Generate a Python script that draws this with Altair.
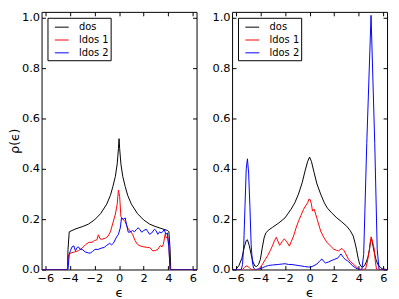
import altair as alt
import pandas as pd

SERIES = ["dos", "ldos 1", "ldos 2"]
COLORS = ["black", "red", "blue"]
X_TICKS = [-6, -4, -2, 0, 2, 4, 6]
Y_TICKS = [0.0, 0.2, 0.4, 0.6, 0.8, 1.0]

# ---- left panel ----
L_DOS_X = [-6.3, -4.2, -4.15, -4.05, -3.5, -3.0, -2.5, -2.0, -1.5, -1.0, -0.7, -0.5, -0.3, -0.15, -0.05, 0.0,
           0.05, 0.15, 0.3, 0.5, 0.7, 1.0, 1.5, 2.0, 2.5, 3.0, 3.5, 3.95, 4.05, 4.15, 4.2, 6.3]
L_DOS_Y = [0.0, 0.0, 0.08, 0.15, 0.162, 0.17, 0.18, 0.197, 0.222, 0.26, 0.295, 0.33, 0.37, 0.42, 0.48, 0.52,
           0.48, 0.42, 0.37, 0.33, 0.295, 0.26, 0.222, 0.197, 0.18, 0.17, 0.162, 0.155, 0.15, 0.08, 0.0, 0.0]
L_LD1_X = [-6.3, -4.2, -4.1, -3.9, -3.6, -3.3, -3.0, -2.7, -2.45, -2.2, -2.0, -1.8, -1.68, -1.55, -1.4, -1.1,
           -0.9, -0.7, -0.5, -0.3, -0.15, -0.05, 0.05, 0.15, 0.3, 0.5, 0.7, 0.9, 1.1, 1.3, 1.5, 1.7, 2.0, 2.3,
           2.5, 2.75, 2.95, 3.15, 3.35, 3.5, 3.6, 3.75, 3.85, 3.95, 4.05, 4.15, 6.3]
L_LD1_Y = [0.0, 0.0, 0.06, 0.066, 0.07, 0.075, 0.085, 0.1, 0.108, 0.108, 0.115, 0.118, 0.138, 0.122, 0.12, 0.125,
           0.132, 0.15, 0.185, 0.22, 0.26, 0.316, 0.29, 0.21, 0.2, 0.19, 0.165, 0.153, 0.14, 0.115, 0.1, 0.094,
           0.09, 0.088, 0.087, 0.074, 0.075, 0.08, 0.095, 0.09, 0.1, 0.14, 0.125, 0.13, 0.09, 0.0, 0.0]
L_LD2_X = [-6.3, -4.15, -4.05, -3.95, -3.82, -3.68, -3.55, -3.4, -3.3, -3.15, -3.0, -2.75, -2.5, -2.35, -2.15,
           -1.96, -1.7, -1.43, -1.2, -1.03, -0.77, -0.6, -0.45, -0.25, -0.05, 0.1, 0.2, 0.35, 0.5, 0.6, 0.75,
           0.95, 1.1, 1.25, 1.43, 1.56, 1.7, 1.85, 2.0, 2.22, 2.35, 2.48, 2.65, 2.88, 3.0, 3.15, 3.3, 3.41,
           3.55, 3.67, 3.8, 3.93, 4.05, 4.15, 6.3]
L_LD2_Y = [0.0, 0.0, 0.06, 0.075, 0.09, 0.094, 0.075, 0.088, 0.09, 0.08, 0.08, 0.07, 0.066, 0.065, 0.072,
           0.08, 0.08, 0.085, 0.088, 0.095, 0.104, 0.098, 0.105, 0.125, 0.14, 0.165, 0.205, 0.2, 0.205, 0.18, 0.148,
           0.15, 0.155, 0.15, 0.16, 0.166, 0.158, 0.148, 0.155, 0.16, 0.15, 0.14, 0.145, 0.16, 0.155, 0.14, 0.15, 0.145,
           0.15, 0.16, 0.14, 0.145, 0.09, 0.0, 0.0]

# ---- right panel ----
R_DOS_X = [-6.3, -6.0, -5.75, -5.5, -5.3, -5.15, -5.05, -4.9, -4.75, -4.6, -4.45, -4.3, -4.15, -4.0, -3.85,
           -3.7, -3.55, -3.3, -3.0, -2.5, -2.0, -1.5, -1.2, -0.9, -0.6, -0.35, -0.15, 0.0, 0.15, 0.37, 0.6, 0.9,
           1.2, 1.45, 1.8, 2.22, 2.6, 3.02, 3.3, 3.55, 3.7, 3.81, 3.95, 4.07, 4.2, 4.34, 4.5, 4.6, 4.75, 4.87,
           4.97, 5.05, 5.15, 5.26, 5.4, 5.53, 5.75, 5.95, 6.3]
R_DOS_Y = [0.0, 0.0, 0.015, 0.045, 0.09, 0.115, 0.118, 0.095, 0.06, 0.03, 0.014, 0.012, 0.02, 0.04, 0.085,
           0.125, 0.146, 0.158, 0.168, 0.185, 0.205, 0.24, 0.265, 0.3, 0.345, 0.395, 0.43, 0.447, 0.43, 0.385, 0.34, 0.3,
           0.265, 0.244, 0.225, 0.205, 0.19, 0.172, 0.155, 0.133, 0.105, 0.081, 0.045, 0.022, 0.012, 0.01, 0.018, 0.029,
           0.05, 0.08, 0.118, 0.12, 0.095, 0.068, 0.04, 0.022, 0.008, 0.002, 0.0]
R_LD1_X = [-6.3, -5.45, -5.3, -5.15, -5.0, -4.85, -4.7, -4.2, -4.0, -3.81, -3.6, -3.41, -3.2, -3.02, -2.85,
           -2.7, -2.55, -2.43, -2.25, -2.05, -1.85, -1.64, -1.5, -1.3, -1.1, -0.9, -0.7, -0.5, -0.3, -0.15, -0.05,
           0.05, 0.15, 0.24, 0.37, 0.5, 0.63, 0.9, 1.16, 1.43, 1.69, 1.96, 2.2, 2.36, 2.62, 2.8, 2.95, 3.15, 3.35,
           3.55, 3.81, 4.0, 4.2, 4.55, 4.7, 4.87, 5.0, 5.1, 5.26, 5.35, 5.45, 6.3]
R_LD1_Y = [0.0, 0.0, 0.008, 0.014, 0.012, 0.004, 0.0, 0.0, 0.008, 0.022, 0.04, 0.055, 0.075, 0.094, 0.115,
           0.128, 0.11, 0.096, 0.11, 0.122, 0.11, 0.093, 0.11, 0.133, 0.165, 0.192, 0.215, 0.238, 0.255, 0.265, 0.28,
           0.278, 0.26, 0.232, 0.24, 0.22, 0.198, 0.153, 0.127, 0.107, 0.094, 0.081, 0.076, 0.074, 0.084, 0.075, 0.062,
           0.042, 0.03, 0.022, 0.01, 0.003, 0.0, 0.002, 0.03, 0.08, 0.13, 0.115, 0.08, 0.03, 0.0, 0.0]
R_LD2_X = [-6.3, -5.55, -5.45, -5.35, -5.25, -5.15, -5.05, -4.95, -4.85, -4.75, -4.65, -4.55, -4.4, -4.1,
           -3.86, -3.6, -3.33, -3.0, -2.54, -2.2, -2.0, -1.7, -1.43, -1.21, -0.8, -0.42, -0.1, 0.1, 0.35, 0.6,
           0.85, 1.0, 1.15, 1.3, 1.55, 1.75, 2.0, 2.28, 2.45, 2.54, 2.65, 2.75, 2.9, 3.07, 3.3, 3.47, 3.7, 3.86,
           4.1, 4.25, 4.4, 4.65, 5.0, 5.3, 5.5, 5.65, 6.3]
R_LD2_Y = [0.0, 0.0, 0.02, 0.1, 0.25, 0.4, 0.44, 0.38, 0.25, 0.1, 0.03, 0.005, 0.0, 0.002,
           0.006, 0.012, 0.016, 0.018, 0.02, 0.022, 0.023, 0.02, 0.02, 0.018, 0.015, 0.012, 0.01, 0.01, 0.015, 0.022,
           0.035, 0.042, 0.032, 0.026, 0.03, 0.035, 0.04, 0.045, 0.055, 0.062, 0.055, 0.048, 0.04, 0.035, 0.025, 0.016,
           0.008, 0.003, 0.0, 0.0, 0.06, 0.5, 1.01, 0.5, 0.08, 0.0, 0.0]


def frame(xs_list, ys_list):
    rows = []
    for name, xs, ys in zip(SERIES, xs_list, ys_list):
        for i, (xv, yv) in enumerate(zip(xs, ys)):
            rows.append({"series": name, "x": xv, "y": yv, "i": i})
    return pd.DataFrame(rows)


FONT = "DejaVu Sans"
XDOM = [-6.3, 6.3]
YDOM = [0, 1.024]


def panel(df, ytitle):
    xs = alt.Scale(domain=XDOM, nice=False, zero=False)
    ys = alt.Scale(domain=YDOM, nice=False)
    lines = alt.Chart(df).mark_line(strokeWidth=1, clip=True).encode(
        x=alt.X("x:Q", scale=xs, title="ϵ",
                axis=alt.Axis(values=X_TICKS, format="d", offset=-4, tickSize=4, domain=False,
                              labelPadding=3, labelFontSize=11.5, titleFontSize=13, titlePadding=3,
                              titleFontWeight="normal")),
        y=alt.Y("y:Q", scale=ys, title=ytitle,
                axis=alt.Axis(values=Y_TICKS, format=".1f", offset=-4, tickSize=4, domain=False,
                              labelPadding=2, labelFontSize=11.5, titleFontSize=12.5, titlePadding=0,
                              titleFontWeight="normal")),
        color=alt.Color("series:N", scale=alt.Scale(domain=SERIES, range=COLORS),
                        legend=alt.Legend(orient="top-left", offset=6, title=None, strokeColor="black",
                                          fillColor="white", padding=2, labelFontSize=10,
                                          symbolType="stroke", symbolStrokeWidth=1, symbolSize=196,
                                          symbolOffset=5, rowPadding=0, labelOffset=10)),
        order="i:Q",
    )
    ticks = alt.Chart(df).mark_point(opacity=0).encode(
        x=alt.X("x:Q", scale=xs,
                axis=alt.Axis(orient="top", values=X_TICKS, labels=False, domain=False, offset=-4,
                              tickSize=4, title=None)),
        y=alt.Y("y:Q", scale=ys,
                axis=alt.Axis(orient="right", values=Y_TICKS, labels=False, domain=False, offset=-4,
                              tickSize=4, title=None)),
    )
    return alt.layer(lines, ticks).resolve_axis(x="independent", y="independent").properties(
        width=157, height=261)


left = panel(frame([L_DOS_X, L_LD1_X, L_LD2_X], [L_DOS_Y, L_LD1_Y, L_LD2_Y]), "ρ(ϵ)")
right = panel(frame([R_DOS_X, R_LD1_X, R_LD2_X], [R_DOS_Y, R_LD1_Y, R_LD2_Y]), None)

chart = alt.hconcat(left, right, spacing=11).resolve_legend(color="independent").properties(
    padding={"left": 0, "top": 1, "right": 0, "bottom": 0}
).configure_view(stroke="black", strokeWidth=1).configure_axis(
    labelFont=FONT, titleFont=FONT, labelColor="black", titleColor="black", tickColor="black", grid=False
).configure_legend(labelFont=FONT, labelColor="black")

chart.save("out.html", embed_options={"renderer": "svg", "actions": False})
